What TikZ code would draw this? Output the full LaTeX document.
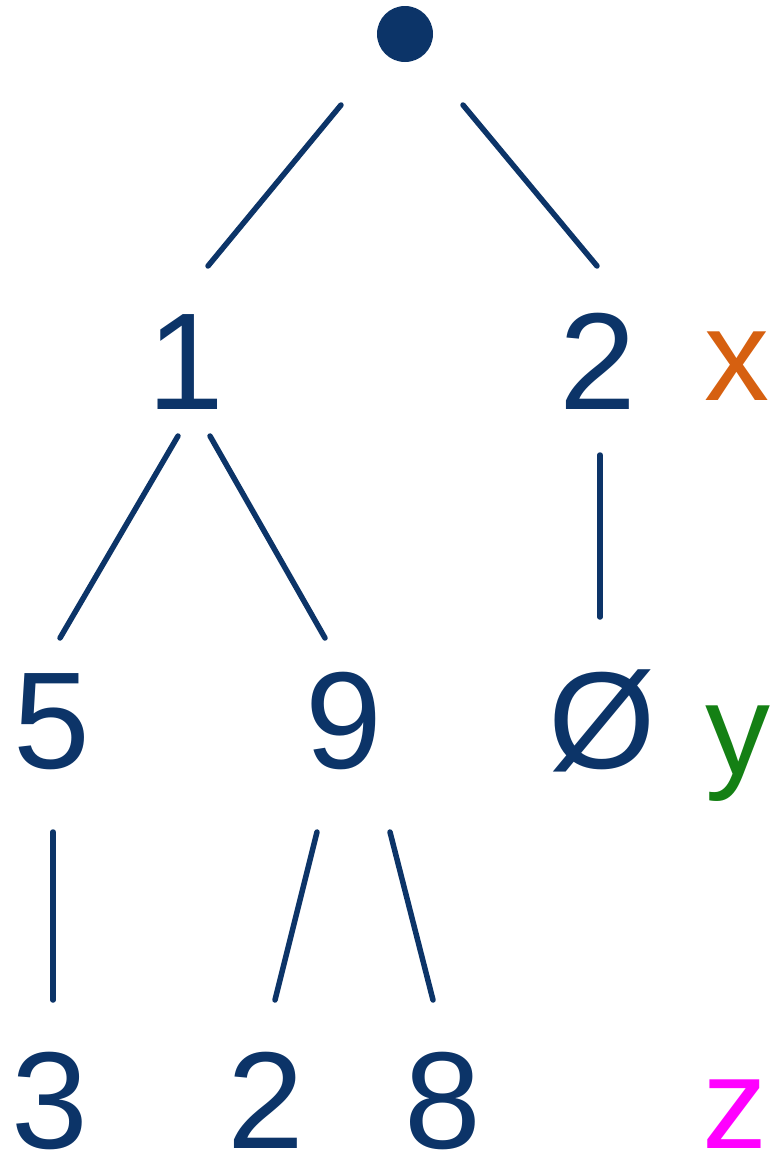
\documentclass[tikz,border=0pt]{standalone}
\usepackage{fontspec}
\setmainfont{Liberation Sans}
\usetikzlibrary{calc}
\definecolor{navy}{RGB}{12,52,104}
\definecolor{xorange}{RGB}{214,96,16}
\definecolor{ygreen}{RGB}{20,128,20}
\definecolor{zmagenta}{RGB}{255,0,255}
\tikzset{
  val/.style={anchor=base, inner sep=0pt, text=navy, font=\fontsize{138}{138}\selectfont},
  var/.style={anchor=base, inner sep=0pt, font=\fontsize{130}{130}\selectfont},
  edge/.style={draw=navy, line width=5.5pt, line cap=round},
  dot/.style={circle, fill=navy, inner sep=0pt, minimum size=56pt}
}
\begin{document}
\begin{tikzpicture}[x=1pt,y=-1pt]
\useasboundingbox (0,0) rectangle (776,1154);
% nodes
\node[dot] (root) at (405,34) {};
\node[val] (n1) at (186,409) {1};
\node[val] (n2) at (598,409) {2};
\node[var, text=xorange] (vx) at (737,400) {x};
\node[val] (n5) at (52,768) {5};
\node[val] (n9) at (344,768) {9};
\node[val] (ne) at (602,768) {Ø};
\node[var, text=ygreen] (vy) at (738,774) {y};
\node[val] (n3) at (50,1148) {3};
\node[val] (m2) at (266,1148) {2};
\node[val] (n8) at (443,1148) {8};
\node[var, text=zmagenta] (vz) at (735,1148) {z};
% edges
\draw[edge] ([shift={(-64,71)}]root.center) -- ([shift={(22,-143)}]n1.base);
\draw[edge] ([shift={(58,71)}]root.center) -- ([shift={(-1,-143)}]n2.base);
\draw[edge] ([shift={(-8,27)}]n1.base) -- ([shift={(8,-130)}]n5.base);
\draw[edge] ([shift={(24,27)}]n1.base) -- ([shift={(-19,-130)}]n9.base);
\draw[edge] ([shift={(2,46)}]n2.base) -- ([shift={(-2,-151)}]ne.base);
\draw[edge] ([shift={(1,64)}]n5.base) -- ([shift={(3,-148)}]n3.base);
\draw[edge] ([shift={(-27,64)}]n9.base) -- ([shift={(9,-148)}]m2.base);
\draw[edge] ([shift={(46,64)}]n9.base) -- ([shift={(-10,-148)}]n8.base);
\end{tikzpicture}
\end{document}
